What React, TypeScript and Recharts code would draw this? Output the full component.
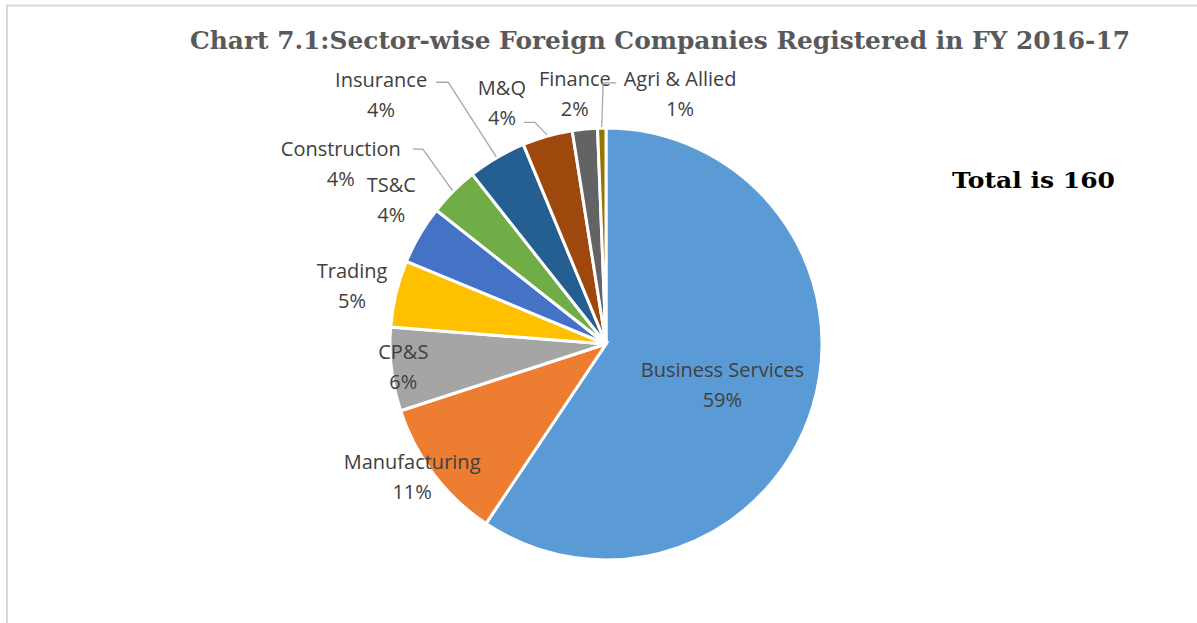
import React from 'react';
import { PieChart, Pie, Cell } from 'recharts';

// sector names, counts (of 160 companies) and slice colours
const sectors = ['Business Services', 'Manufacturing', 'CP&S', 'Trading', 'TS&C', 'Construction', 'Insurance', 'M&Q', 'Finance', 'Agri & Allied'];
const counts = [95, 17, 10, 8, 7, 6, 7, 6, 3, 1];
const colors = ['#5B9BD5', '#ED7D31', '#A5A5A5', '#FFC000', '#4472C4', '#70AD47', '#255E91', '#9E480E', '#636363', '#997300'];

const total = counts.reduce((a, b) => a + b, 0);
const pieData = sectors.map((name, i) => ({ name, value: counts[i] }));

// where each label sits: radius as share of the pie radius, polar angle in degrees
const labelSpots = [
  { r: 0.57, a: -19 },
  { r: 1.088, a: -145.6 },
  { r: 0.944, a: -173.8 },
  { r: 1.206, a: 167.1 },
  { r: 1.199, a: 146 },
  { r: 1.486, a: 145.7 },
  { r: 1.556, a: 132 },
  { r: 1.218, a: 113.3 },
  { r: 1.167, a: 97.1 },
  { r: 1.208, a: 73.5 },
];

// leader lines: end next to the text and the elbow, both relative to the label centre
const leaders: Record<number, { end: [number, number]; elbow: [number, number] }> = {
  5: { end: [72, -14], elbow: [82, -14] },
  6: { end: [55, -12], elbow: [67, -12] },
  7: { end: [22, 20], elbow: [33, 20] },
  9: { end: [-64, -11], elbow: [-77, -11] },
};

const RAD = Math.PI / 180;

const renderLabel = (props: any) => {
  const { cx, cy, midAngle, outerRadius, index, value } = props;
  const spot = labelSpots[index];
  const lx = cx + outerRadius * spot.r * Math.cos(spot.a * RAD);
  const ly = cy - outerRadius * spot.r * Math.sin(spot.a * RAD);
  const pct = Math.round((value / total) * 100);
  const lead = leaders[index];
  let line = null;
  if (lead) {
    const ex = cx + (outerRadius + 1) * Math.cos(midAngle * RAD);
    const ey = cy - (outerRadius + 1) * Math.sin(midAngle * RAD);
    const pts = `${ex},${ey} ${lx + lead.elbow[0]},${ly + lead.elbow[1]} ${lx + lead.end[0]},${ly + lead.end[1]}`;
    line = <polyline points={pts} fill="none" stroke="#A6A6A6" strokeWidth={1.3} />;
  }
  return (
    <g key={`lbl-${index}`}>
      {line}
      <text x={lx} y={ly - 15} textAnchor="middle" dominantBaseline="central" fill="#404040" fontSize={20} fontFamily="'Open Sans', sans-serif">
        {sectors[index]}
      </text>
      <text x={lx} y={ly + 15} textAnchor="middle" dominantBaseline="central" fill="#404040" fontSize={20} fontFamily="'Open Sans', sans-serif">
        {pct}%
      </text>
    </g>
  );
};

const App: React.FC = () => {
  return (
    <div style={{ position: 'absolute', left: 0, top: 0, width: 1197, height: 623, background: '#fff' }}>
      <svg width={1197} height={623} style={{ position: 'absolute', left: 0, top: 0 }}>
        <line x1={6} y1={5.5} x2={1197} y2={5.5} stroke="#D9D9D9" strokeWidth={2} />
        <line x1={7} y1={5} x2={7} y2={623} stroke="#D9D9D9" strokeWidth={2} />
        <text x={660} y={49} textAnchor="middle" fill="#595959" fontSize={24} fontWeight="bold" fontFamily="'DejaVu Serif', serif" textLength={940} lengthAdjust="spacingAndGlyphs">
          Chart 7.1:Sector-wise Foreign Companies Registered in FY 2016-17
        </text>
        <text x={952} y={188} fill="#000" fontSize={23} fontWeight="bold" fontFamily="'DejaVu Serif', serif" textLength={163} lengthAdjust="spacingAndGlyphs">
          Total is 160
        </text>
      </svg>
      <div style={{ position: 'absolute', left: 0, top: 0 }}>
        <PieChart width={1197} height={623} margin={{ top: 0, right: 0, bottom: 0, left: 0 }}>
          <Pie
            data={pieData}
            dataKey="value"
            nameKey="name"
            cx={606}
            cy={344}
            outerRadius={216}
            startAngle={90}
            endAngle={-270}
            stroke="#fff"
            strokeWidth={3}
            label={renderLabel}
            labelLine={false}
            isAnimationActive={false}
          >
            {pieData.map((d, i) => (
              <Cell key={d.name} fill={colors[i]} />
            ))}
          </Pie>
        </PieChart>
      </div>
    </div>
  );
};

export default App;
